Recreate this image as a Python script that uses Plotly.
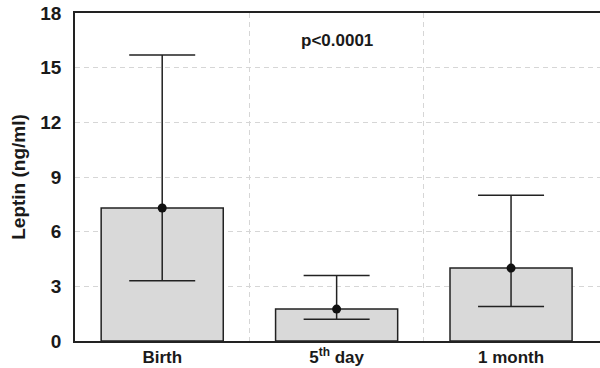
import plotly.graph_objects as go

categories = ["Birth", "5<sup>th</sup> day", "1 month"]
x_pos = [0, 1, 2]
median = [7.3, 1.75, 4.0]
upper = [15.7, 3.6, 8.0]
lower = [3.3, 1.2, 1.9]
y_ticks = [0, 3, 6, 9, 12, 15, 18]

err_plus = [u - m for u, m in zip(upper, median)]
err_minus = [m - l for m, l in zip(median, lower)]

dark = "#222222"
fam = "Liberation Sans, Arial, sans-serif"
font = dict(family=fam, size=18, color="#1a1a1a", weight="bold")

fig = go.Figure()
fig.add_trace(go.Bar(
    x=x_pos, y=median, width=0.7,
    marker=dict(color="#d9d9d9", line=dict(color=dark, width=1.5)),
    hoverinfo="skip", showlegend=False,
))
fig.add_trace(go.Scatter(
    x=x_pos, y=median, mode="markers",
    marker=dict(color="#111111", size=9),
    error_y=dict(type="data", symmetric=False, array=err_plus, arrayminus=err_minus,
                 color=dark, thickness=1.5, width=33),
    showlegend=False,
))

fig.add_annotation(x=1, y=16.5, text="p&lt;0.0001", showarrow=False,
                   font=dict(family=fam, size=17, color="#1a1a1a", weight="bold"),
                   xanchor="center", yanchor="middle")

grid = "#d6d6d6"
fig.update_layout(
    width=600, height=368,
    margin=dict(l=75, r=0, t=13, b=27),
    plot_bgcolor="white", paper_bgcolor="white",
    font=font,
    xaxis=dict(
        range=[-0.5, 2.51], tickvals=x_pos, ticktext=categories,
        showgrid=False, showline=True, linecolor=dark, linewidth=1.5, mirror=True,
        ticks="", zeroline=False, fixedrange=True, automargin=False,
        tickfont=dict(family=fam, size=17, color="#1a1a1a", weight="bold"),
        minor=dict(tickvals=[0.5, 1.5], showgrid=True, gridcolor=grid,
                   griddash="5px,4px", gridwidth=1, ticks=""),
    ),
    yaxis=dict(
        range=[0, 18], tickvals=y_ticks, showgrid=True, gridcolor=grid,
        griddash="5px,4px", gridwidth=1, showline=True, linecolor=dark, linewidth=1.5,
        ticks="", zeroline=False, ticklabelstandoff=8, automargin=False,
        tickfont=dict(family=fam, size=19, color="#1a1a1a", weight="bold"),
        title=dict(text="Leptin (ng/ml)", font=dict(family=fam, size=19, color="#1a1a1a", weight="bold"),
                   standoff=10),
    ),
)

fig.write_html("out.html")
